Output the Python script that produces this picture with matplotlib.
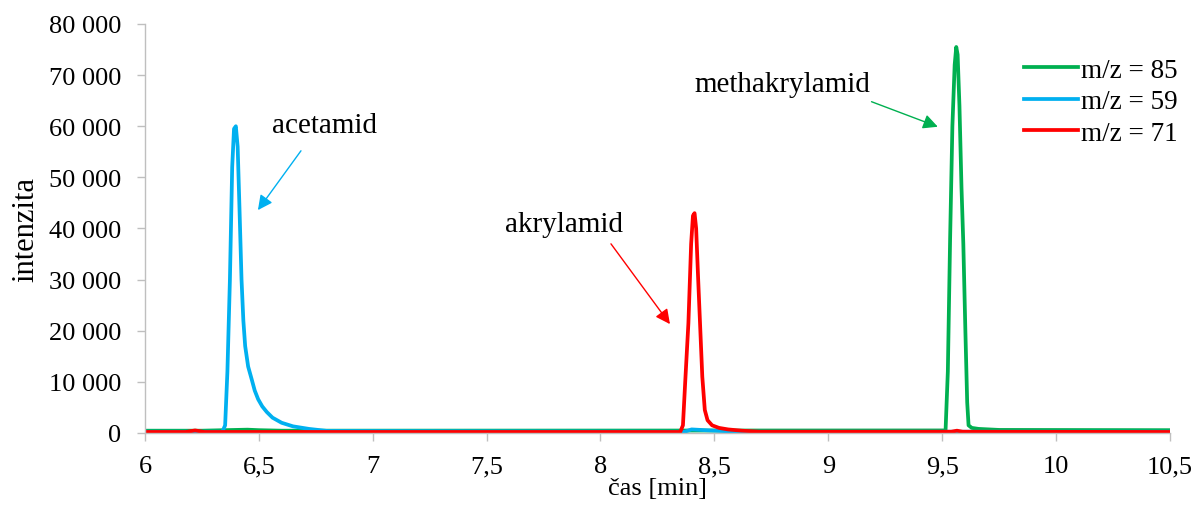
import matplotlib
matplotlib.use("Agg")
import matplotlib.pyplot as plt
from matplotlib.ticker import FuncFormatter

# ── Data ──────────────────────────────────────────────────────────────────────
t_85 = [6.0, 6.25, 6.45, 6.5, 6.6, 9.515, 9.525, 9.535, 9.545, 9.555, 9.562, 9.568,
        9.576, 9.585, 9.593, 9.602, 9.61, 9.616, 9.63, 9.66, 9.75, 10.5]
i_85 = [450, 450, 650, 550, 450, 500, 12000, 38000, 60000, 72000, 75500, 74000,
        64000, 48000, 37000, 20000, 6000, 1500, 1000, 800, 600, 550]

t_59 = [6.0, 6.34, 6.352, 6.362, 6.373, 6.383, 6.391, 6.399, 6.407, 6.415, 6.424,
        6.432, 6.44, 6.453, 6.468, 6.482, 6.497, 6.515, 6.535, 6.56, 6.6, 6.65,
        6.72, 6.8, 8.37, 8.4, 8.48, 8.6, 10.5]
i_59 = [250, 250, 1500, 12000, 30000, 52000, 59500, 60000, 56000, 44000, 30000,
        22000, 17000, 13000, 10600, 8300, 6600, 5200, 4100, 3000, 2000, 1300,
        800, 400, 250, 700, 500, 250, 250]

t_71 = [6.0, 6.18, 6.22, 6.26, 8.35, 8.362, 8.372, 8.386, 8.398, 8.406, 8.413,
        8.42, 8.428, 8.437, 8.447, 8.458, 8.47, 8.49, 8.52, 8.56, 8.62, 8.7,
        9.54, 9.565, 9.59, 10.5]
i_71 = [200, 200, 500, 200, 200, 1500, 10000, 21500, 37000, 42500, 43000,
        40000, 31000, 21500, 11000, 4500, 2500, 1500, 1000, 700, 450, 250,
        250, 450, 250, 200]

series_labels = ["m/z = 85", "m/z = 59", "m/z = 71"]
series_colors = ["#00B050", "#00B0F0", "#FF0000"]

# annotation: label, text pos (t, I), arrow head (t, I), arrow tail (t, I)
ann_labels = ["acetamid", "akrylamid", "methakrylamid"]
ann_text   = [(6.79, 60300), (7.84, 40900), (8.80, 68300)]
ann_tail   = [(6.685, 55200), (8.046, 37000), (9.19, 64800)]
ann_head   = [(6.496, 43600), (8.305, 21300), (9.481, 59900)]
ann_colors = ["#00B0F0", "#FF0000", "#00B050"]

# ── Plot ──────────────────────────────────────────────────────────────────────
plt.rcParams["font.family"] = ["Liberation Serif", "DejaVu Serif"]
FS = 19

fig = plt.figure(figsize=(11.95, 5.06), dpi=100)
ax = fig.add_axes([0.1213, 0.1423, 0.979 - 0.1213, 0.9506 - 0.1423])

for t, i, lab, col in zip([t_85, t_59, t_71], [i_85, i_59, i_71],
                          series_labels, series_colors):
    ax.plot(t, i, color=col, lw=2.7, label=lab, solid_joinstyle="round")

for lab, tp, tail, head, col in zip(ann_labels, ann_text, ann_tail, ann_head, ann_colors):
    ax.text(tp[0], tp[1], lab, fontsize=21, ha="center", va="center")
    ax.annotate("", xy=head, xytext=tail,
                arrowprops=dict(arrowstyle="-|>", color=col, lw=1.0,
                                mutation_scale=22, shrinkA=0, shrinkB=0))

ax.set_xlim(6, 10.5)
ax.set_ylim(0, 80000)
ax.set_xticks([6, 6.5, 7, 7.5, 8, 8.5, 9, 9.5, 10, 10.5])
ax.set_yticks(range(0, 80001, 10000))
ax.xaxis.set_major_formatter(FuncFormatter(lambda v, p: f"{v:g}".replace(".", ",")))
ax.yaxis.set_major_formatter(FuncFormatter(lambda v, p: f"{int(v):,}".replace(",", " ")))

for s in ["top", "right"]:
    ax.spines[s].set_visible(False)
for s in ["left", "bottom"]:
    ax.spines[s].set_color("#BFBFBF")
    ax.spines[s].set_linewidth(1.0)
ax.tick_params(axis="both", colors="#BFBFBF", labelcolor="black", labelsize=FS,
               length=6, width=1.0, direction="out")
ax.tick_params(axis="x", pad=10)
ax.tick_params(axis="y", pad=11)

ax.set_xlabel("čas [min]", fontsize=19, labelpad=0)
ax.set_ylabel("intenzita", fontsize=22, labelpad=6)

ax.legend(loc="upper left", bbox_to_anchor=(0.848, 0.905), bbox_transform=fig.transFigure,
          frameon=False, fontsize=19.5, handlelength=2.0, handletextpad=0.1,
          labelspacing=0.24, borderaxespad=0)

fig.savefig("out.png", dpi=100)
